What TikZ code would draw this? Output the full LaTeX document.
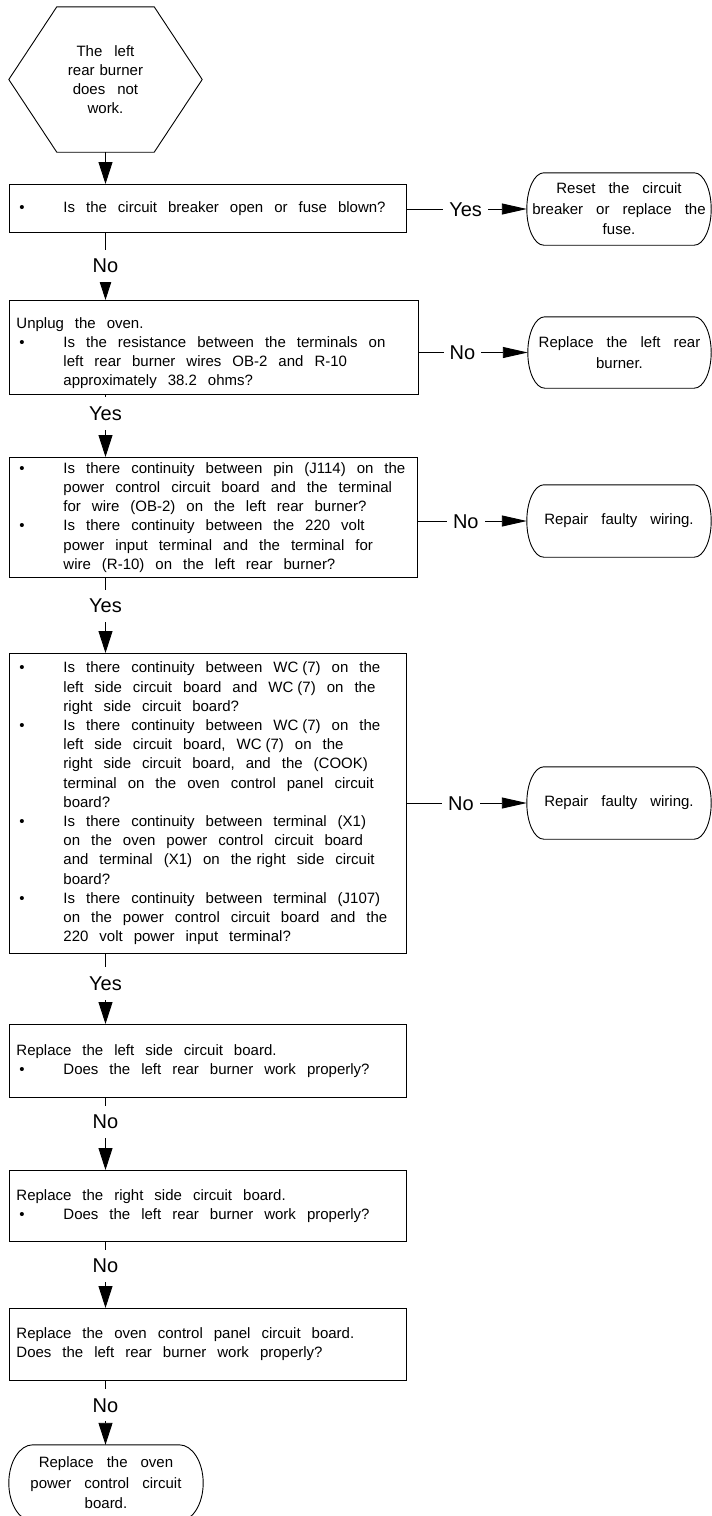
\documentclass[tikz,border=0pt]{standalone}
\usepackage{fontspec}
\setmainfont{Liberation Sans}
\usepackage{array}
\usetikzlibrary{arrows.meta,calc}

\newcommand{\bodysp}{\spaceskip=11pt plus 1pt minus 1pt\relax}
\newcommand{\bodyfont}{\fontsize{15pt}{19.2pt}\selectfont\bodysp}
\newcommand{\termfont}{\fontsize{15pt}{20.5pt}\selectfont\spaceskip=13pt plus 1pt minus 1pt\relax}
\newcommand{\hexfont}{\fontsize{15pt}{19pt}\selectfont\spaceskip=12pt plus 1pt minus 1pt\relax}
\newcommand{\labfont}{\fontsize{20pt}{24pt}\selectfont}
\newcommand{\bl}{\makebox[47pt][l]{\hspace*{3pt}\textbullet}}
\newenvironment{lines}{\noindent\begin{tabular}{@{}>{\bodysp}l@{}>{\bodysp}l@{}}}{\end{tabular}}
\newcommand{\full}[1]{\multicolumn{2}{@{}>{\bodysp}l@{}}{#1}}
\newcommand{\termshape}[3]{%
  \draw[ln] ($(#1.north west)+(#2,0)$) -- ($(#1.north east)+(-#2,0)$)
    .. controls +(0.5523*#2,0) and +(0,-0.5523*#3) .. (#1.east)
    .. controls +(0,0.5523*#3) and +(0.5523*#2,0) .. ($(#1.south east)+(-#2,0)$)
    -- ($(#1.south west)+(#2,0)$)
    .. controls +(-0.5523*#2,0) and +(0,0.5523*#3) .. (#1.west)
    .. controls +(0,-0.5523*#3) and +(-0.5523*#2,0) .. ($(#1.north west)+(#2,0)$);}

\begin{document}
\begin{tikzpicture}[x=1pt,y=-1pt,
  ln/.style={line width=0.9pt, draw=black},
  arr/.style={ln, -{Triangle[length=22pt,width=14pt]}},
  harr/.style={ln, -{Triangle[length=25pt,width=11pt]}},
  box/.style={ln, rectangle, anchor=north west, inner xsep=7pt, inner ysep=0pt, align=left, font=\bodyfont},
  term/.style={rectangle, inner sep=0pt, align=center, font=\termfont},
  vlab/.style={fill=white, font=\labfont, inner xsep=2pt, inner ysep=9pt, text height=14.3pt, text depth=0pt},
  hlab/.style={fill=white, font=\labfont, inner xsep=6pt, inner ysep=2pt, text height=14.3pt, text depth=0pt},
]
\useasboundingbox (0,0) rectangle (712,1516);
\clip (0,0) rectangle (712,1516);

% start hexagon
\node[rectangle, inner sep=0pt, minimum width=193pt, minimum height=145pt, align=center, font=\hexfont] (start) at (105.5,79.5) {The left\\rear\hspace{5pt}burner\\does not\\work.};
\draw[ln] ($(start.north west)+(48,0)$) -- ($(start.north east)+(-48,0)$) -- (start.east)
  -- ($(start.south east)+(-48,0)$) -- ($(start.south west)+(48,0)$) -- (start.west) -- cycle;

% boxes
\node[box, text width=383pt, minimum height=48pt] (b1) at (9,184) {\begin{lines}
\bl & Is the circuit breaker open or fuse blown?
\end{lines}};

\node[box, text width=395pt, minimum height=94pt] (b2) at (9,300) {\begin{lines}
\full{\rule{0pt}{25pt}Unplug the oven.}\\
\bl & Is the resistance between the terminals on\\
 & left rear burner wires OB-2 and R-10\\
 & approximately 38.2 ohms?
\end{lines}};

\node[box, text width=394pt, minimum height=120pt] (b3) at (9,457) {\begin{lines}
\bl & Is there continuity between pin (J114) on the\\
 & power control circuit board and the terminal\\
 & for wire (OB-2) on the left rear burner?\\
\bl & Is there continuity between the 220 volt\\
 & power input terminal and the terminal for\\
 & wire (R-10) on the left rear burner?
\end{lines}};

\node[box, text width=383pt, minimum height=300pt] (b4) at (9,653) {\begin{lines}
\bl & Is there continuity between WC\hspace{4pt}(7) on the\\
 & left side circuit board and WC\hspace{4pt}(7) on the\\
 & right side circuit board?\\
\bl & Is there continuity between WC\hspace{4pt}(7) on the\\
 & left side circuit board, WC\hspace{4pt}(7) on the\\
 & right side circuit board, and the (COOK)\\
 & terminal on the oven control panel circuit\\
 & board?\\
\bl & Is there continuity between terminal (X1)\\
 & on the oven power control circuit board\\
 & and terminal (X1) on the\hspace{5pt}right side circuit\\
 & board?\\
\bl & Is there continuity between terminal (J107)\\
 & on the power control circuit board and the\\
 & 220 volt power input terminal?
\end{lines}};

\node[box, text width=383pt, minimum height=73pt] (b5) at (9,1024) {\begin{lines}
\full{Replace the left side circuit board.}\\
\bl & Does the left rear burner work properly?
\end{lines}};

\node[box, text width=383pt, minimum height=71pt] (b6) at (9,1170) {\begin{lines}
\full{Replace the right side circuit board.}\\
\bl & Does the left rear burner work properly?
\end{lines}};

\node[box, text width=383pt, minimum height=72pt] (b7) at (9,1308) {\begin{lines}
\full{Replace the oven control panel circuit board.}\\
\full{Does the left rear burner work properly?}
\end{lines}};

% terminals
\node[term, minimum width=184pt, minimum height=72pt] (t1) at (619,209) {Reset the circuit\\breaker or replace the\\fuse.};
\termshape{t1}{17}{36}
\node[term, minimum width=183pt, minimum height=71pt] (t2) at (619.5,352.5) {Replace the left rear\\burner.};
\termshape{t2}{17}{35.5}
\node[term, minimum width=184pt, minimum height=72pt] (t3) at (619,521) {Repair faulty wiring.};
\termshape{t3}{17}{36}
\node[term, minimum width=184pt, minimum height=72pt] (t4) at (619,803) {Repair faulty wiring.};
\termshape{t4}{17}{36}
\node[term, minimum width=194pt, minimum height=76pt] (t5) at (106,1483) {Replace the oven\\power control circuit\\board.};
\termshape{t5}{24}{38}

% vertical connectors
\draw[arr] (start.south) -- (b1.north -| start.south);
\draw[arr] (b1.south -| start.south) -- node[vlab,pos=0.49]{No} (b2.north -| start.south);
\draw[arr] (b2.south -| start.south) -- node[vlab,pos=0.30]{Yes} (b3.north -| start.south);
\draw[arr] (b3.south -| start.south) -- node[vlab,pos=0.37]{Yes} (b4.north -| start.south);
\draw[arr] (b4.south -| start.south) -- node[vlab,pos=0.42]{Yes} (b5.north -| start.south);
\draw[arr] (b5.south -| start.south) -- node[vlab,pos=0.33]{No} (b6.north -| start.south);
\draw[arr] (b6.south -| start.south) -- node[vlab,pos=0.36]{No} (b7.north -| start.south);
\draw[arr] (b7.south -| start.south) -- node[vlab,pos=0.38]{No} (t5.north -| start.south);

% horizontal connectors
\draw[harr] (t1.west -| b1.east) -- node[hlab,pos=0.49]{Yes} (t1.west);
\draw[harr] (t2.west -| b2.east) -- node[hlab,pos=0.40]{No} (t2.west);
\draw[harr] (t3.west -| b3.east) -- node[hlab,pos=0.44]{No} (t3.west);
\draw[harr] (t4.west -| b4.east) -- node[hlab,pos=0.45]{No} (t4.west);
\end{tikzpicture}
\end{document}
